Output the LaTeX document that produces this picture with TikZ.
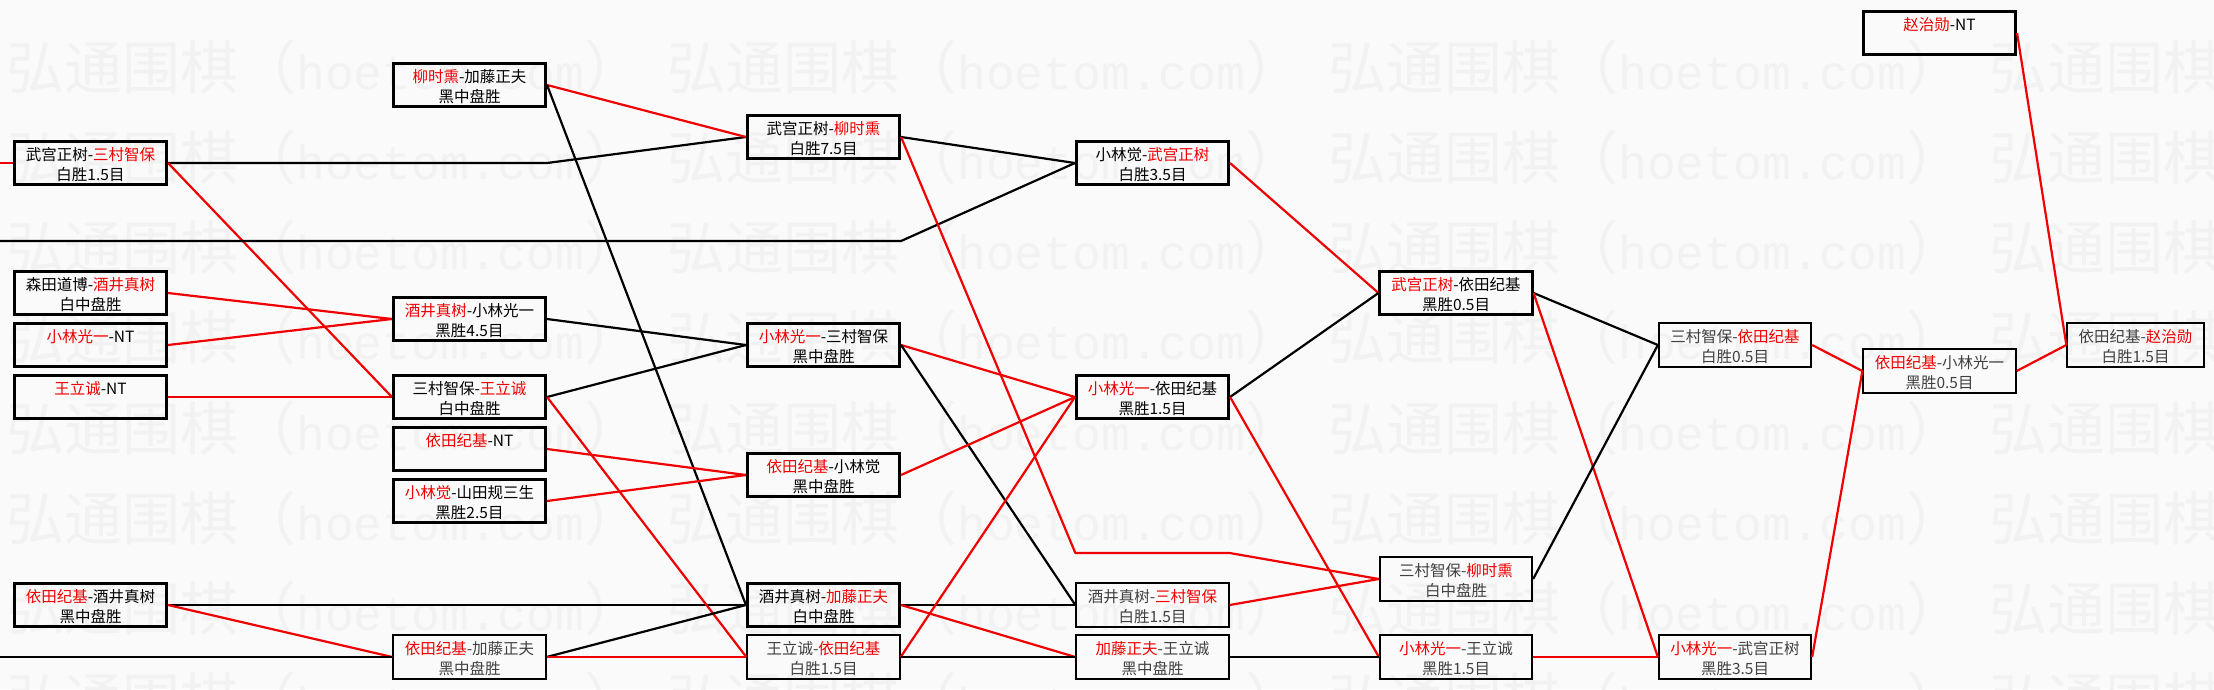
\documentclass[tikz,border=0pt]{standalone}
\usepackage{fontspec}
\usepackage{tikz}
\newfontfamily\cjk{Noto Sans CJK SC}
\newfontfamily\wmlatin{Liberation Mono}
\definecolor{winred}{RGB}{240,0,0}
\definecolor{paper}{RGB}{250,250,250}
\definecolor{wmgray}{RGB}{242,242,242}
\newcommand{\Win}[1]{\textcolor{winred}{#1}}
\newcommand{\Ln}{\rule[-2pt]{0pt}{18pt}}
\newcommand{\WaterMark}{{\cjk\fontsize{58}{58}\selectfont 弘通围棋（{\wmlatin\fontsize{48}{58}\selectfont hoetom.com}）}}
\usetikzlibrary{calc}
\tikzset{>=latex}
\tikzset{
    game/.style={draw, line width=2.6pt, minimum width=152.5pt, minimum height=43.5pt, inner sep=0pt, align=center, font=\cjk\fontsize{15.5}{20}\selectfont},
    gamelite/.style={game, line width=1.8pt, text=black!75},
    won/.style={draw=winred, line width=2.2pt, line join=round},
    lost/.style={draw=black, line width=2.2pt, line join=round},
    wmark/.style={text=wmgray, anchor=west, inner sep=0pt},
}

\begin{document}
\begin{tikzpicture}[x=1pt,y=-1pt]
    \fill[paper] (0,0) rectangle (2214,689);
    \useasboundingbox (0,0) rectangle (2214,689);
    \begin{scope}
        \clip (0,0) rectangle (2214,689);
        \foreach \r in {0,...,7}
            \foreach \c in {0,...,3}
                \node[wmark] (wm\r\c) at ({6+661*\c},{67+90.3*\r}) {\WaterMark};
    \end{scope}

    \coordinate (inL0) at (0,163);
    \coordinate (inL1) at (0,241);
    \coordinate (inL2) at (0,657);
    \coordinate (c2bend) at (0,553);

    \node[game] (A3) at (90.5,163) {\Ln 武宫正树-\Win{三村智保}\\\Ln 白胜1.5目};
    \node[game] (A8) at (90.5,293) {\Ln 森田道博-\Win{酒井真树}\\\Ln 白中盘胜};
    \node[game] (A10) at (90.5,345) {\Ln\Win{小林光一}-NT\\\Ln};
    \node[game] (A12) at (90.5,397) {\Ln\Win{王立诚}-NT\\\Ln};
    \node[game] (A20) at (90.5,605) {\Ln\Win{依田纪基}-酒井真树\\\Ln 黑中盘胜};

    \node[game] (B0) at (469.5,85) {\Ln\Win{柳时熏}-加藤正夫\\\Ln 黑中盘胜};
    \node[game] (B9) at (469.5,319) {\Ln\Win{酒井真树}-小林光一\\\Ln 黑胜4.5目};
    \node[game] (B12) at (469.5,397) {\Ln 三村智保-\Win{王立诚}\\\Ln 白中盘胜};
    \node[game] (B14) at (469.5,449) {\Ln\Win{依田纪基}-NT\\\Ln};
    \node[game] (B16) at (469.5,501) {\Ln\Win{小林觉}-山田规三生\\\Ln 黑胜2.5目};
    \node[gamelite] (B22) at (469.5,657) {\Ln\Win{依田纪基}-加藤正夫\\\Ln 黑中盘胜};

    \node[game] (C2) at (823.5,137) {\Ln 武宫正树-\Win{柳时熏}\\\Ln 白胜7.5目};
    \node[game] (C10) at (823.5,345) {\Ln\Win{小林光一}-三村智保\\\Ln 黑中盘胜};
    \node[game] (C15) at (823.5,475) {\Ln\Win{依田纪基}-小林觉\\\Ln 黑中盘胜};
    \node[game] (C20) at (823.5,605) {\Ln 酒井真树-\Win{加藤正夫}\\\Ln 白中盘胜};
    \node[gamelite] (C22) at (823.5,657) {\Ln 王立诚-\Win{依田纪基}\\\Ln 白胜1.5目};

    \node[game] (D3) at (1152.5,163) {\Ln 小林觉-\Win{武宫正树}\\\Ln 白胜3.5目};
    \node[game] (D12) at (1152.5,397) {\Ln\Win{小林光一}-依田纪基\\\Ln 黑胜1.5目};
    \node[gamelite] (D20) at (1152.5,605) {\Ln 酒井真树-\Win{三村智保}\\\Ln 白胜1.5目};
    \node[gamelite] (D22) at (1152.5,657) {\Ln\Win{加藤正夫}-王立诚\\\Ln 黑中盘胜};

    \node[game] (E8) at (1456,293) {\Ln\Win{武宫正树}-依田纪基\\\Ln 黑胜0.5目};
    \node[gamelite] (E19) at (1456,579) {\Ln 三村智保-\Win{柳时熏}\\\Ln 白中盘胜};
    \node[gamelite] (E22) at (1456,657) {\Ln\Win{小林光一}-王立诚\\\Ln 黑胜1.5目};

    \node[gamelite] (F10) at (1735,345) {\Ln 三村智保-\Win{依田纪基}\\\Ln 白胜0.5目};
    \node[gamelite] (F22) at (1735,657) {\Ln\Win{小林光一}-武宫正树\\\Ln 黑胜3.5目};

    \node[game] (Gtop) at (1939.5,33) {\Ln\Win{赵治勋}-NT\\\Ln};
    \node[gamelite] (G11) at (1939.5,371) {\Ln\Win{依田纪基}-小林光一\\\Ln 黑胜0.5目};

    \node[gamelite, minimum width=136.5pt] (H10) at (2135.5,345) {\Ln 依田纪基-\Win{赵治勋}\\\Ln 白胜1.5目};

    \draw[won] (inL0) -- (A3.west);
    \draw[lost] (A3.east) -- (B0.east |- A3.east) -- (C2.west);
    \draw[won] (A3.east) -- (B12.west);
    \draw[won] (A8.east) -- (B9.west);
    \draw[won] (A10.east) -- (B9.west);
    \draw[won] (A12.east) -- (B12.west);
    \draw[lost] (A20.east) -- (C20.west);
    \draw[won] (A20.east) -- (B22.west);
    \draw[lost] (inL2) -- (B22.west);
    \draw[lost] (inL1) -- (C2.east |- inL1) -- (D3.west);

    \draw[won] (B0.east) -- (C2.west);
    \draw[lost] (B0.east) -- (C20.west);
    \draw[lost] (B9.east) -- (C10.west);
    \draw[lost] (B12.east) -- (C10.west);
    \draw[won] (B12.east) -- (C22.west);
    \draw[won] (B14.east) -- (C15.west);
    \draw[won] (B16.east) -- (C15.west);
    \draw[lost] (B22.east) -- (C20.west);
    \draw[won] (B22.east) -- (C22.west);

    \draw[lost] (C2.east) -- (D3.west);
    \draw[won] (C2.east) -- (D20.west |- c2bend) -- (D20.east |- c2bend) -- (E19.west);
    \draw[won] (C10.east) -- (D12.west);
    \draw[lost] (C10.east) -- (D20.west);
    \draw[won] (C15.east) -- (D12.west);
    \draw[lost] (C20.east) -- (D20.west);
    \draw[won] (C20.east) -- (D22.west);
    \draw[won] (C22.east) -- (D12.west);
    \draw[lost] (C22.east) -- (D22.west);

    \draw[won] (D3.east) -- (E8.west);
    \draw[lost] (D12.east) -- (E8.west);
    \draw[won] (D12.east) -- (E22.west);
    \draw[won] (D20.east) -- (E19.west);
    \draw[lost] (D22.east) -- (E22.west);

    \draw[lost] (E8.east) -- (F10.west);
    \draw[won] (E8.east) -- (F22.west);
    \draw[lost] (E19.east) -- (F10.west);
    \draw[won] (E22.east) -- (F22.west);

    \draw[won] (F10.east) -- (G11.west);
    \draw[won] (F22.east) -- (G11.west);
    \draw[won] (G11.east) -- (H10.west);
    \draw[won] (Gtop.east) -- (H10.west);
\end{tikzpicture}
\end{document}
